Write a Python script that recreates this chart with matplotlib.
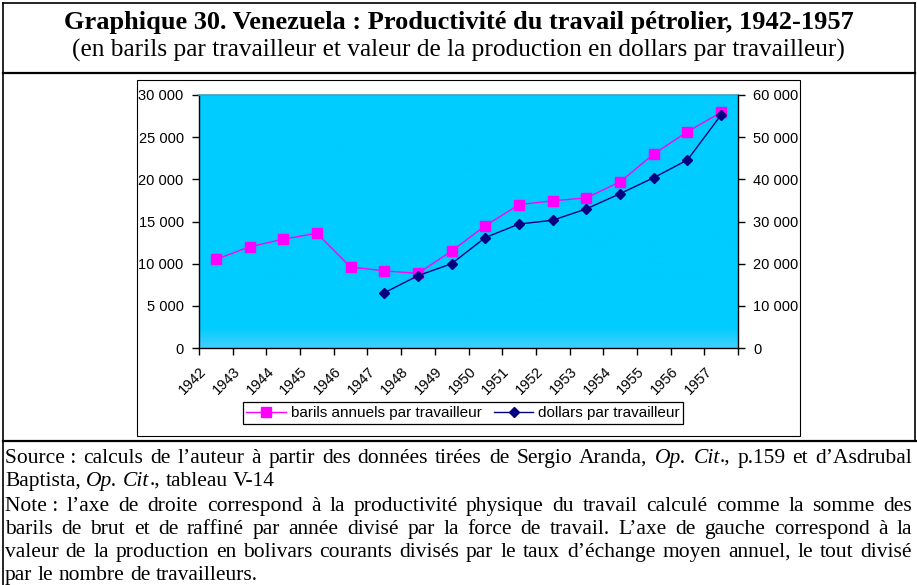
import numpy as np
import matplotlib.pyplot as plt
import matplotlib.transforms as mtransforms
from matplotlib.colors import LinearSegmentedColormap
from matplotlib.lines import Line2D
from matplotlib.patches import Rectangle
from matplotlib.ticker import FuncFormatter, MultipleLocator

W, H = 917, 585

years = ["1942", "1943", "1944", "1945", "1946", "1947", "1948", "1949",
         "1950", "1951", "1952", "1953", "1954", "1955", "1956", "1957"]
barils = [10500, 12000, 12900, 13600, 9600, 9150, 8850, 11500,
          14500, 17000, 17450, 17800, 19700, 23000, 25650, 27950]
dollars = [None, None, None, None, None, 13100, 17150, 20000,
           26200, 29400, 30300, 33000, 36600, 40400, 44600, 55300]

title = "Graphique 30. Venezuela : Productivité du travail pétrolier, 1942-1957"
subtitle = "(en barils par travailleur et valeur de la production en dollars par travailleur)"
label_barils = "barils annuels par travailleur"
label_dollars = "dollars par travailleur"

# footer lines: * toggles italic, ~ is a non stretched space
footer = [
    ("Source~: calculs de l’auteur à partir des données tirées de Sergio Aranda, *Op.* *Cit*., p.159 et d’Asdrubal", True),
    ("Baptista, *Op.* *Cit*., tableau V-14", False),
    ("Note~: l’axe de droite correspond à la productivité physique du travail calculé comme la somme des", True),
    ("barils de brut et de raffiné par année divisé par la force de travail. L’axe de gauche correspond à la", True),
    ("valeur de la production en bolivars courants divisés par le taux d’échange moyen annuel, le tout divisé", True),
    ("par le nombre de travailleurs.", False),
]
footer_y = [463, 486, 511, 534, 557, 580]

SERIF = "Liberation Serif"
SANS = "Liberation Sans"


def fx(px):
    return px / W


def fy(py):
    return 1 - py / H


fig = plt.figure(figsize=(W / 100, H / 100), dpi=100)

# frames
ln = dict(transform=fig.transFigure, color="black")
fig.add_artist(Line2D([fx(2.5), fx(2.5)], [fy(3), fy(585)], lw=1.2, **ln))
fig.add_artist(Line2D([fx(915), fx(915)], [fy(3), fy(441)], lw=1.2, **ln))
fig.add_artist(Line2D([fx(2.5), fx(915)], [fy(3), fy(3)], lw=1.2, **ln))
fig.add_artist(Line2D([fx(2.5), fx(915)], [fy(73), fy(73)], lw=1.6, **ln))
fig.add_artist(Line2D([fx(2.5), fx(917)], [fy(441), fy(441)], lw=1.6, **ln))
fig.add_artist(Rectangle((fx(137), fy(436)), fx(800) - fx(137), fy(80) - fy(436),
                         transform=fig.transFigure, fill=False, ec="black", lw=0.8))

fig.text(fx(458.5), fy(29), title, ha="center", va="baseline", family=SERIF,
         fontsize=19, fontweight="bold")
fig.text(fx(458), fy(57), subtitle, ha="center", va="baseline", family=SERIF,
         fontsize=18.3)

# chart
ax = fig.add_axes([fx(199), fy(348), fx(738) - fx(199), fy(95) - fy(348)])
ax2 = ax.twinx()
x = np.arange(len(years))

cmap = LinearSegmentedColormap.from_list(
    "bg", [(0, "#40d0ff"), (0.08, "#00ccff"), (1, "#00ccff")])
grad = np.linspace(0, 1, 256).reshape(-1, 1)
ax.imshow(grad, extent=[0, 1, 0, 1], transform=ax.transAxes, aspect="auto",
          cmap=cmap, origin="lower", zorder=0)

ax.plot(x, barils, color="#ff00ff", lw=1, marker="s", markersize=6.5,
        zorder=3, label=label_barils)
ax2.plot(x, np.array(dollars, dtype=float), color="#000080", lw=1, marker="D",
         markersize=5.5, zorder=3, label=label_dollars)

ax.set_xlim(-0.5, len(years) - 0.5)
ax.set_ylim(0, 30000)
ax2.set_ylim(0, 60000)
ax.yaxis.set_major_locator(MultipleLocator(5000))
ax2.yaxis.set_major_locator(MultipleLocator(10000))
fmt = FuncFormatter(lambda v, p: f"{int(v):,}".replace(",", " "))
ax.yaxis.set_major_formatter(fmt)
ax2.yaxis.set_major_formatter(fmt)

ax.set_xticks(np.arange(-0.5, len(years), 1.0))
ax.set_xticklabels([])
ax.tick_params(axis="x", direction="out", length=5, width=1, color="black")
ax.tick_params(axis="y", direction="out", length=5, width=1, pad=6,
               labelsize=10.5)
ax2.tick_params(axis="y", direction="out", length=5, width=1, pad=6,
                labelsize=10.5)
for lab in ax.get_yticklabels() + ax2.get_yticklabels():
    lab.set_family(SANS)

for s in ["left", "bottom"]:
    ax.spines[s].set_color("black")
    ax.spines[s].set_linewidth(1)
ax.spines["right"].set_visible(False)
ax.spines["top"].set_color("#3f9fbc")
ax.spines["top"].set_linewidth(1.2)
for s in ["left", "bottom", "top"]:
    ax2.spines[s].set_visible(False)
ax2.spines["right"].set_color("black")
ax2.spines["right"].set_linewidth(1)

off = mtransforms.ScaledTranslation(-0.23, -0.33, fig.dpi_scale_trans)
for i, yr in enumerate(years):
    ax.text(i, 0, yr, transform=ax.get_xaxis_transform() + off, rotation=45,
            rotation_mode="anchor", ha="center", va="center", family=SANS,
            fontsize=10.5)

h1, l1 = ax.get_legend_handles_labels()
h2, l2 = ax2.get_legend_handles_labels()
leg = fig.legend(h1 + h2, l1 + l2, loc="center", ncol=2,
                 bbox_to_anchor=(fx(463), fy(413)), bbox_transform=fig.transFigure,
                 frameon=True, fancybox=False, edgecolor="black", framealpha=1,
                 prop={"family": SANS, "size": 11}, handlelength=2.6,
                 handletextpad=0.3, columnspacing=0.8, borderpad=0.25,
                 borderaxespad=0)
leg.get_frame().set_linewidth(0.9)

# footer, justified
FS = 15.5
renderer = fig.canvas.get_renderer()
space = 0.25 * FS * 100 / 72
left, right = 5, 912
for (line, justify), yb in zip(footer, footer_y):
    words = []
    for w in line.split(" "):
        segs = w.replace("~", " ").split("*")
        arts = []
        for k, s in enumerate(segs):
            if not s:
                continue
            t = fig.text(0, fy(yb), s, family=SERIF, fontsize=FS,
                         style="italic" if k % 2 else "normal",
                         ha="left", va="baseline")
            arts.append((t, t.get_window_extent(renderer).width))
        words.append(arts)
    widths = [sum(wd for _, wd in a) for a in words]
    gap = space
    if justify and len(words) > 1:
        gap = (right - left - sum(widths)) / (len(words) - 1)
    xp = left
    for arts, wd in zip(words, widths):
        xx = xp
        for t, tw in arts:
            t.set_x(fx(xx))
            xx += tw
        xp += wd + gap

fig.savefig("out.png", dpi=100)
